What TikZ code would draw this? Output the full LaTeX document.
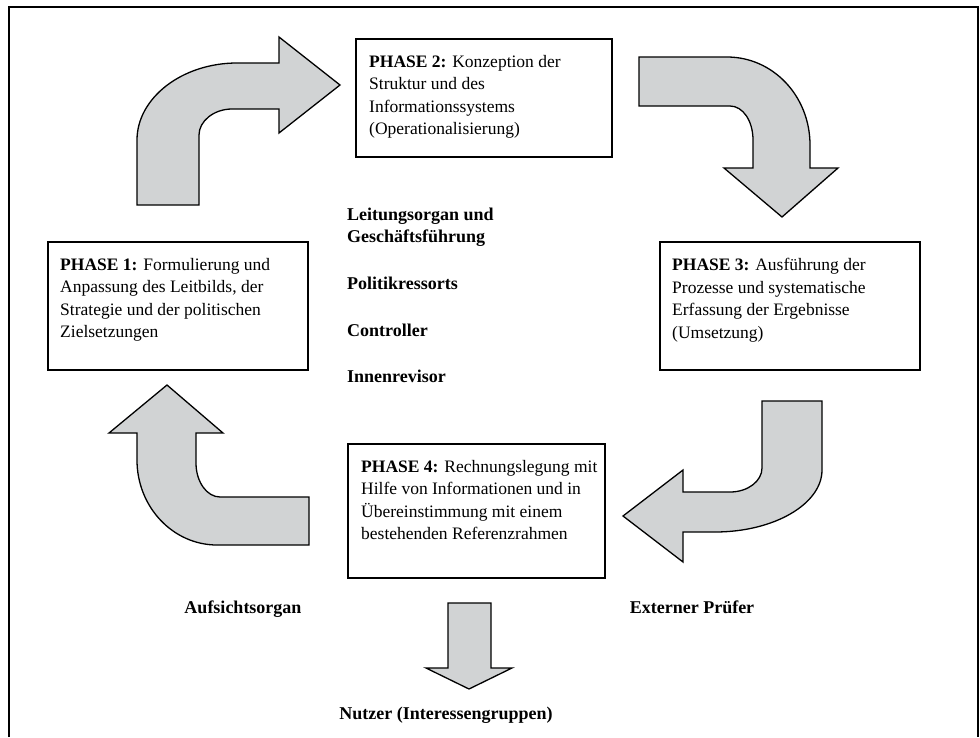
\documentclass[tikz,border=0pt]{standalone}
\usepackage{fontspec}
\setmainfont{Liberation Serif}
\definecolor{arrowgray}{RGB}{209,211,212}
\tikzset{
  phasebox/.style={draw, line width=1.6pt, inner sep=0pt, anchor=north west},
  phasetext/.style={anchor=north west, inner sep=0pt, align=left, font=\fontsize{17.5}{22.5}\selectfont},
  rolelabel/.style={inner sep=0pt, align=left, font=\fontsize{18}{22.5}\selectfont\bfseries},
  bigarrow/.style={draw=black, fill=arrowgray, line width=1.3pt, line join=miter}
}
\begin{document}
\begin{tikzpicture}[x=1pt, y=-1pt]
    \useasboundingbox (0,0) rectangle (980,737);
    \draw [line width=2pt] (9,737) -- (9,7) -- (978,7) -- (978,737);
    \node [phasebox, minimum width=260, minimum height=128] (p1) at (47,241) {};
    \node [phasebox, minimum width=256, minimum height=118] (p2) at (355,38) {};
    \node [phasebox, minimum width=260, minimum height=128] (p3) at (659,241) {};
    \node [phasebox, minimum width=257, minimum height=134] (p4) at (347,443) {};
    \node [phasetext] (t1) at ([xshift=13pt,yshift=-17pt]p1.north west) {\textbf{PHASE 1:} Formulierung und\\Anpassung des Leitbilds, der\\Strategie und der politischen\\Zielsetzungen};
    \node [phasetext] (t2) at ([xshift=14pt,yshift=-17pt]p2.north west) {\textbf{PHASE 2:} Konzeption der\\Struktur und des\\Informationssystems\\(Operationalisierung)};
    \node [phasetext] (t3) at ([xshift=13pt,yshift=-17pt]p3.north west) {\textbf{PHASE 3:} Ausführung der\\Prozesse und systematische\\Erfassung der Ergebnisse\\(Umsetzung)};
    \node [phasetext] (t4) at ([xshift=14pt,yshift=-17pt]p4.north west) {\textbf{PHASE 4:} Rechnungslegung mit\\Hilfe von Informationen und in\\Übereinstimmung mit einem\\bestehenden Referenzrahmen};
    \draw [bigarrow] (137,205) -- (137,140) .. controls (137,98) and (182,63) .. (237,63) -- (279,63) -- (279,37) -- (340,85) -- (279,133) -- (279,109) -- (232,109) .. controls (214,109) and (199,121) .. (199,135) -- (199,205) -- cycle;
    \draw [bigarrow] (639,57) -- (727,57) .. controls (773,57) and (810,96) .. (810,145) -- (810,168) -- (838,168) -- (782,217) -- (724,168) -- (753,168) -- (753,140) .. controls (753,121) and (743,106) .. (730,106) -- (639,106) -- cycle;
    \draw [bigarrow] (762,401) -- (822,401) -- (822,470) .. controls (822,504) and (774,532) .. (715,532) -- (683,532) -- (683,562) -- (623,516) -- (683,470) -- (683,492) -- (730,492) .. controls (748,492) and (762,481) .. (762,468) -- cycle;
    \draw [bigarrow] (309,497) -- (309,545) -- (217,545) .. controls (173,545) and (137,507) .. (137,460) -- (137,433) -- (109,433) -- (167,385) -- (223,433) -- (196,433) -- (196,463) .. controls (196,482) and (207,497) .. (220,497) -- cycle;
    \draw [bigarrow] (448,603) -- (491,603) -- (491,668) -- (512,668) -- (469,689) -- (426,668) -- (448,668) -- cycle;
    \node [rolelabel, anchor=north west] (board) at (347,207.5) {Leitungsorgan und\\Geschäftsführung};
    \node [rolelabel, anchor=base west] (policy) at (347,289) {Politikressorts};
    \node [rolelabel, anchor=base west] (ctrl) at (347,336) {Controller};
    \node [rolelabel, anchor=base west] (audit) at (347,382) {Innenrevisor};
    \node [rolelabel, anchor=base] (superv) at (243,613) {Aufsichtsorgan};
    \node [rolelabel, anchor=base] (extaud) at (692,613) {Externer Prüfer};
    \node [rolelabel, anchor=base] (users) at (446,719) {Nutzer (Interessengruppen)};
\end{tikzpicture}
\end{document}
